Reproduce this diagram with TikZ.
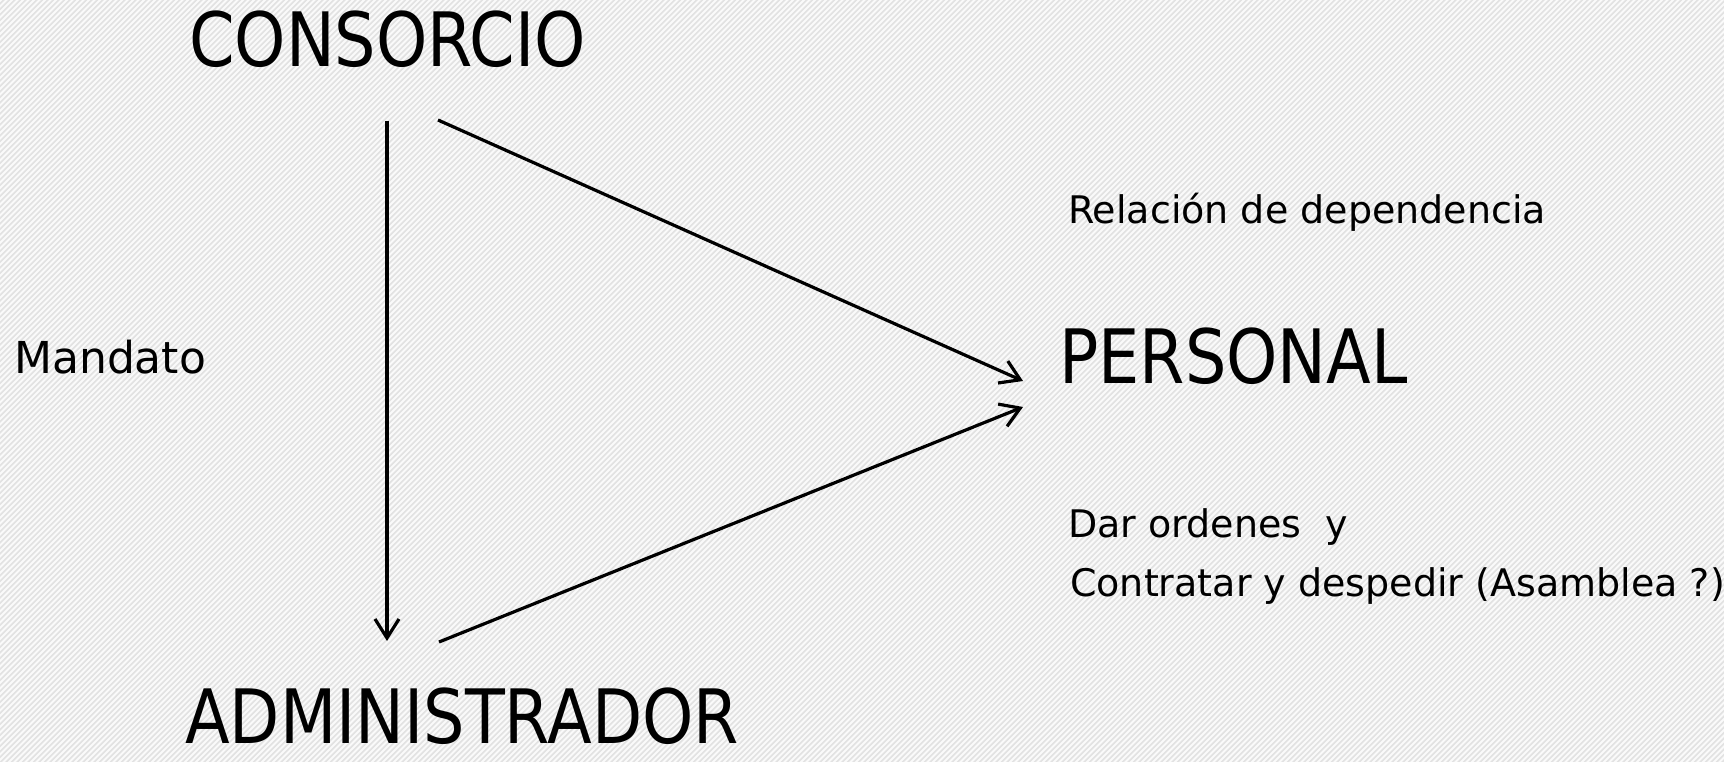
\documentclass[tikz,border=0pt]{standalone}
\usepackage{fontspec}
\setmainfont{DejaVu Sans}
\newfontfamily\bigfont[FakeStretch=0.87]{DejaVu Sans}
\usetikzlibrary{arrows.meta}
\definecolor{bgbase}{RGB}{226,226,226}
\definecolor{bgstripe}{RGB}{250,250,250}
\tikzset{
  bigtxt/.style={inner sep=0pt, anchor=base west, font=\bigfont\fontsize{75}{80}\selectfont},
  smalltxt/.style={inner sep=0pt, anchor=base west, font=\fontsize{38}{44}\selectfont},
  conn/.style={line width=3.2pt, -{Straight Barb[length=19pt,width=24pt,line width=3.2pt]}},
}
\begin{document}
\begin{tikzpicture}[x=1pt,y=-1pt]
\useasboundingbox (0,0) rectangle (1724,762);
\fill[bgbase] (0,0) rectangle (1724,762);
\begin{scope}
\clip (0,0) rectangle (1724,762);
\foreach \i in {-780,-774.5,...,1730} {
  \draw[bgstripe, line width=2pt] (\i,770) -- (\i+780,-10);
}
\end{scope}
% text nodes
\node[bigtxt] (consorcio) at (189,67) {CONSORCIO};
\node[bigtxt] (personal) at (1059,383) {PERSONAL};
\node[bigtxt] (admin) at (185,743) {ADMINISTRADOR};
\node[smalltxt, font=\fontsize{44}{50}\selectfont] (mandato) at (14,373) {Mandato};
\node[smalltxt] (relacion) at (1068,223) {Relación de dependencia};
\node[smalltxt] (dar) at (1068,537) {Dar ordenes~ y};
\node[smalltxt] (contratar) at (1070,596) {Contratar y despedir (Asamblea ?)};
% connector ends
\coordinate (vstart) at (387,121);
\coordinate (vend) at (387,641);
\coordinate (d1start) at (438,120);
\coordinate (d1end) at (1023,381);
\coordinate (d2start) at (439,642);
\coordinate (d2end) at (1023,407);
\draw[conn] (vstart) -- (vend);
\draw[conn] (d1start) -- (d1end);
\draw[conn] (d2start) -- (d2end);
\end{tikzpicture}
\end{document}
